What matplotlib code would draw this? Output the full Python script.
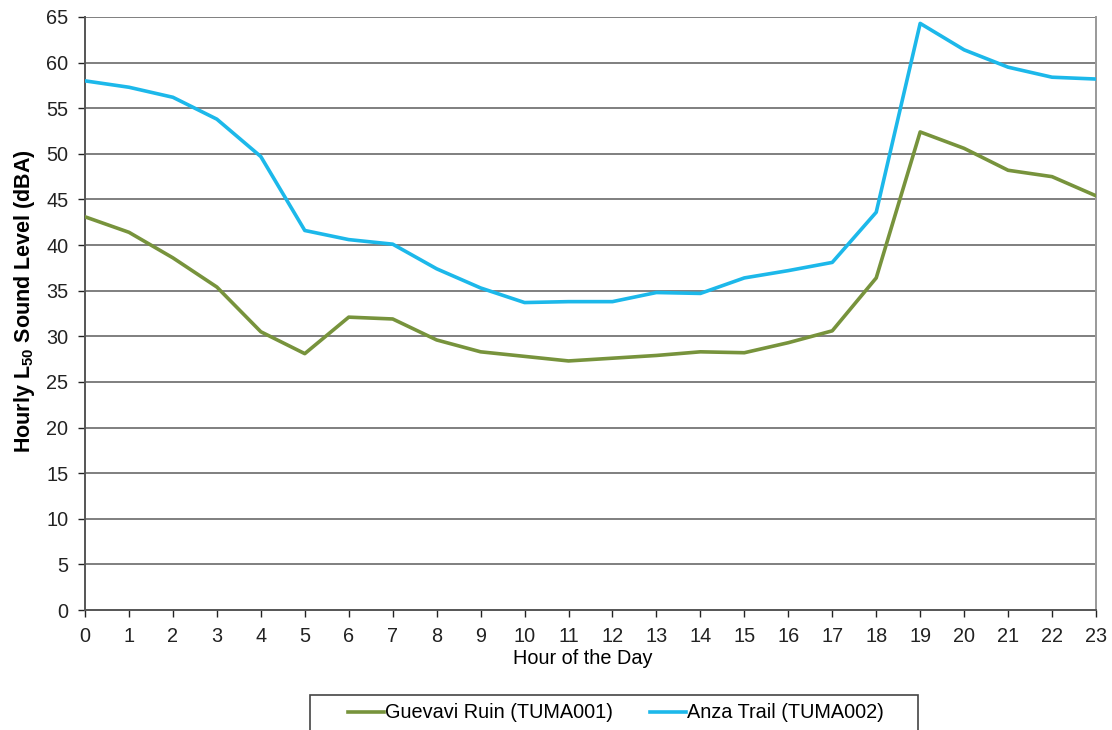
"""Hourly L50 sound levels at two monitoring sites."""

import matplotlib

matplotlib.use("Agg")
import matplotlib.pyplot as plt
from matplotlib.patches import Rectangle

hours = list(range(24))
guevavi_l50 = [43.1, 41.4, 38.6, 35.4, 30.5, 28.1, 32.1, 31.9, 29.6, 28.3, 27.8, 27.3,
               27.6, 27.9, 28.3, 28.2, 29.3, 30.6, 36.4, 52.4, 50.6, 48.2, 47.5, 45.4]
anza_l50 = [58.0, 57.3, 56.2, 53.8, 49.7, 41.6, 40.6, 40.1, 37.4, 35.3, 33.7, 33.8,
            33.8, 34.8, 34.7, 36.4, 37.2, 38.1, 43.6, 64.3, 61.4, 59.5, 58.4, 58.2]
y_ticks = list(range(0, 70, 5))

plt.rcParams["font.family"] = ["Liberation Sans", "DejaVu Sans"]
plt.rcParams["mathtext.fontset"] = "custom"
plt.rcParams["mathtext.rm"] = "Liberation Sans:bold"
plt.rcParams["mathtext.bf"] = "Liberation Sans:bold"

W, H = 1112, 730
fig = plt.figure(figsize=(W / 100, H / 100), dpi=100)
ax = fig.add_axes([85 / W, 1 - 610 / H, 1011 / W, 593 / H])

for y in y_ticks[1:]:
    ax.axhline(y, color="#7f7f7f", lw=1.4, zorder=1)

ax.plot(hours, guevavi_l50, color="#77933c", lw=2.6, label="Guevavi Ruin (TUMA001)",
        zorder=3, solid_joinstyle="round")
ax.plot(hours, anza_l50, color="#1cb8ea", lw=2.6, label="Anza Trail (TUMA002)",
        zorder=3, solid_joinstyle="round")

ax.set_xlim(0, 23)
ax.set_ylim(0, 65)
ax.set_xticks(hours)
ax.set_yticks(y_ticks)
ax.tick_params(axis="both", labelsize=14.3, colors="#222222", length=5, width=1,
               direction="out", pad=7)

ax.spines["top"].set_visible(False)
ax.spines["left"].set_color("#555555")
ax.spines["bottom"].set_color("#555555")
ax.spines["right"].set_color("#999999")
for sp in ax.spines.values():
    sp.set_linewidth(1.4)

ax.set_xlabel("Hour of the Day", fontsize=14.3)
ax.xaxis.set_label_coords(0.492, -0.066)
ax.set_ylabel(r"Hourly L$_{50}$ Sound Level (dBA)", fontsize=15.5, fontweight="bold")
ax.yaxis.set_label_coords(-0.047, 0.521)

# legend box runs off the bottom edge of the figure
fig.add_artist(Rectangle((310 / W, -0.05), 608 / W, 0.05 + 35 / H,
                         transform=fig.transFigure, fill=False,
                         edgecolor="#444444", lw=1.2))
fig.legend(loc="center left", bbox_to_anchor=(348 / W, 1 - 713 / H), ncol=2,
           fontsize=14.3, frameon=False, handlelength=1.8, handletextpad=0.05,
           columnspacing=1.9, borderpad=0, borderaxespad=0)

fig.savefig("out.png", dpi=100)
plt.close(fig)
